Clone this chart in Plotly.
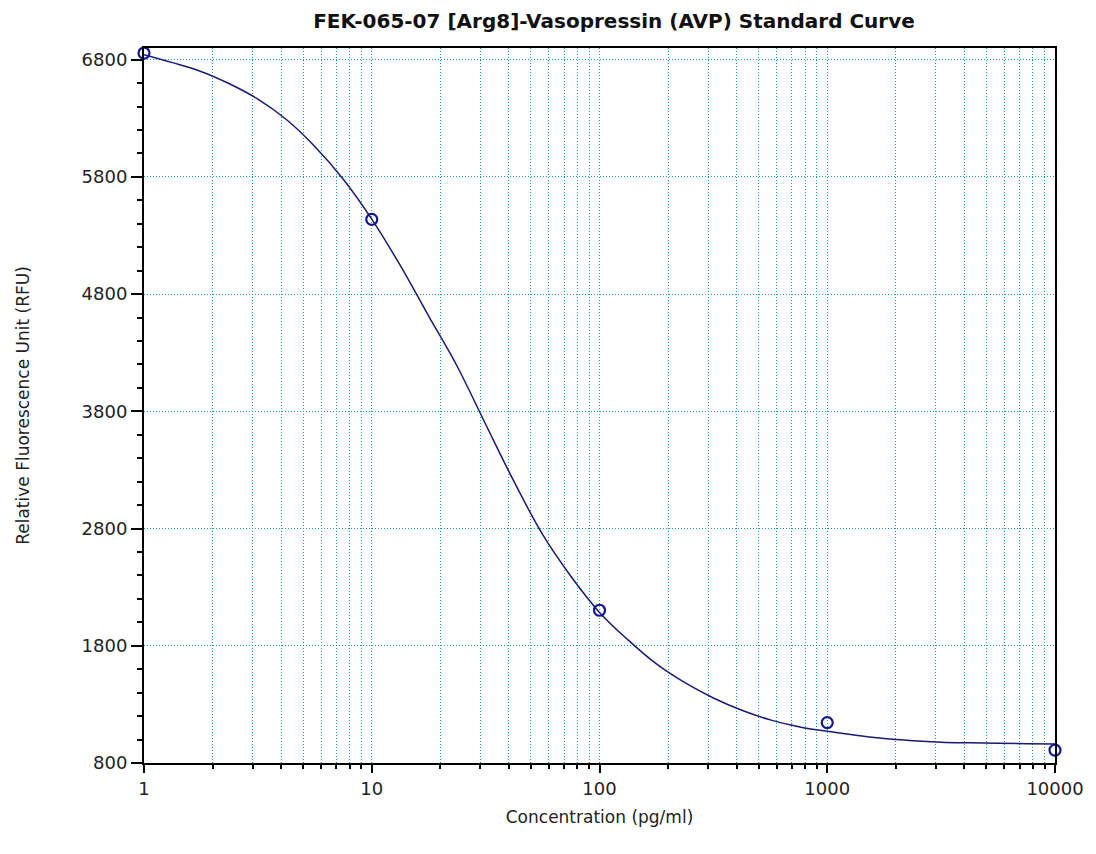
import plotly.graph_objects as go

# Standard points (concentration pg/ml, RFU)
std_conc = [1, 10, 100, 1000, 10000]
std_rfu = [6857, 5438, 2103, 1145, 910]

# Fitted curve at 1/8-decade steps
curve_conc = [1, 1.334, 1.778, 2.371, 3.162, 4.217, 5.623, 7.499,
              10, 13.34, 17.78, 23.71, 31.62, 42.17, 56.23, 74.99,
              100, 133.4, 177.8, 237.1, 316.2, 421.7, 562.3, 749.9,
              1000, 1334, 1778, 2371, 3162, 4217, 5623, 7499, 10000]
curve_rfu = [6843, 6775, 6700, 6595, 6464, 6290, 6060, 5780,
             5440, 5045, 4613, 4185, 3690, 3200, 2750, 2391,
             2085, 1850, 1645, 1485, 1355, 1250, 1168, 1110,
             1070, 1037, 1008, 990, 978, 972, 968, 965, 963]

x_tickvals = [1, 10, 100, 1000, 10000]
x_ticktext = ["1", "10", "100", "1000", "10000"]
y_tickvals = [800, 1800, 2800, 3800, 4800, 5800, 6800]

title_text = "FEK-065-07 [Arg8]-Vasopressin (AVP) Standard Curve"
x_title = "Concentration (pg/ml)"
y_title = "Relative Fluorescence Unit (RFU)"

navy = "rgb(25,25,120)"
marker_col = "rgb(20,20,150)"
grid_col = "rgb(30,155,180)"
GRID_DASH = "1px,2px"
FONT = "DejaVu Sans, Verdana, sans-serif"

fig = go.Figure()
fig.add_trace(go.Scatter(
    x=curve_conc, y=curve_rfu, mode="lines",
    line=dict(color=navy, width=1.5, shape="spline", smoothing=1.0),
    hoverinfo="skip", showlegend=False))
fig.add_trace(go.Scatter(
    x=std_conc, y=std_rfu, mode="markers",
    marker=dict(symbol="circle-open", size=11, color=marker_col,
                line=dict(width=2.2, color=marker_col)),
    cliponaxis=False, showlegend=False))

fig.update_layout(
    width=1096, height=854,
    margin=dict(l=144, r=41, t=48, b=91),
    paper_bgcolor="white", plot_bgcolor="white",
    font=dict(family=FONT, color="#222", size=17),
    title=dict(text="<b>" + title_text + "</b>", x=614/1096, xref="container",
               xanchor="center", y=1 - 21/854, yanchor="middle",
               font=dict(size=20, color="#111", family=FONT)),
    xaxis=dict(
        type="log", range=[0, 4],
        tickvals=x_tickvals, ticktext=x_ticktext,
        ticks="outside", ticklen=8, tickcolor="black", tickwidth=1.5,
        showline=True, linecolor="black", linewidth=2, mirror=True,
        showgrid=True, gridcolor=grid_col, griddash=GRID_DASH, gridwidth=1,
        minor=dict(dtick="D1", ticks="outside", ticklen=4, tickcolor="black",
                   showgrid=True, gridcolor=grid_col, griddash=GRID_DASH, gridwidth=1),
        tickfont=dict(size=18),
        title=dict(text=x_title, font=dict(size=17), standoff=14),
        zeroline=False),
    yaxis=dict(
        range=[800, 6900],
        tickvals=y_tickvals,
        ticks="outside", ticklen=11, tickcolor="black", tickwidth=1.5,
        showline=True, linecolor="black", linewidth=2, mirror=True,
        showgrid=True, gridcolor=grid_col, griddash=GRID_DASH, gridwidth=1,
        minor=dict(dtick=200, tick0=800, ticks="outside", ticklen=5,
                   tickcolor="black", showgrid=False),
        tickfont=dict(size=18),
        title=dict(text=y_title, font=dict(size=17), standoff=48),
        zeroline=False),
)

fig.write_html("out.html", config={"displayModeBar": False},
               post_script="document.body.style.margin='0px';document.body.style.overflow='hidden';")
